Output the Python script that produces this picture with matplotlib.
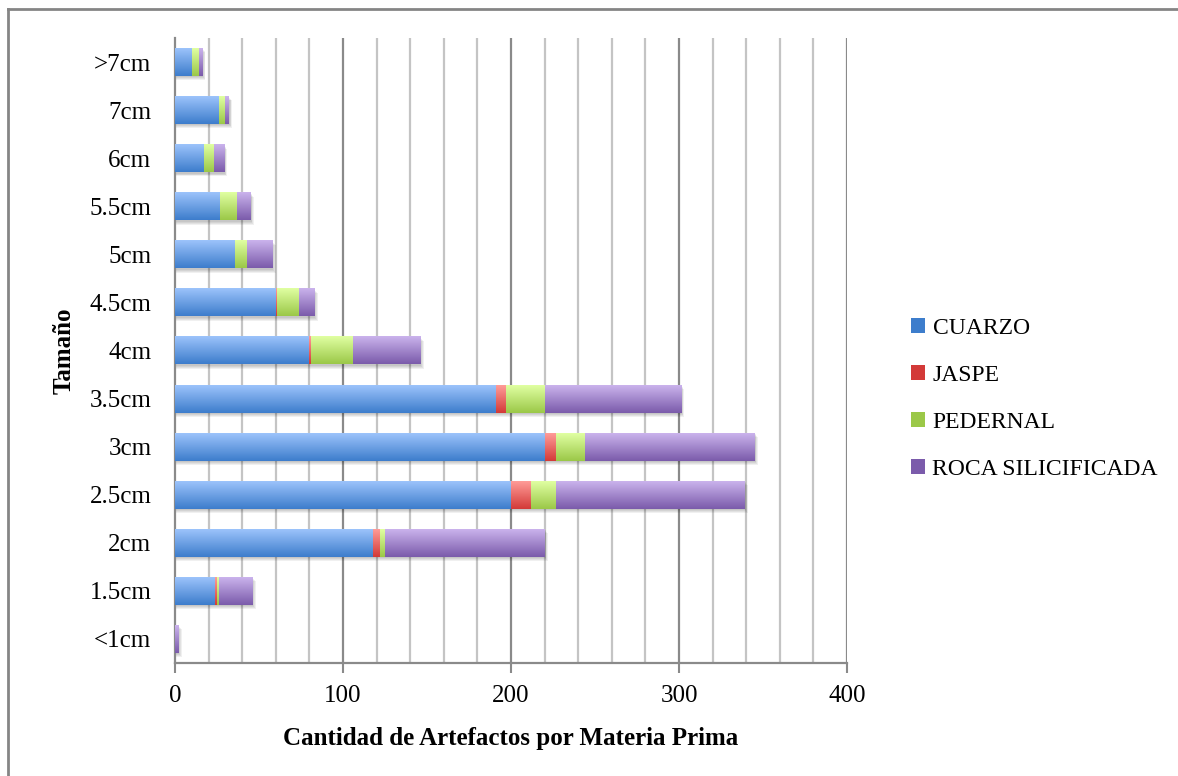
import numpy as np
import matplotlib
matplotlib.use("Agg")
import matplotlib.pyplot as plt
from matplotlib.colors import LinearSegmentedColormap
from matplotlib.lines import Line2D
from matplotlib.patches import Patch

sizes = ['<1cm', '1.5cm', '2cm', '2.5cm', '3cm', '3.5cm', '4cm',
         '4.5cm', '5cm', '5.5cm', '6cm', '7cm', '>7cm']
cuarzo = [0, 24, 118, 200, 220, 191, 80, 60, 36, 27, 17, 26, 10]
jaspe = [0, 1, 4, 12, 7, 6, 1, 1, 0, 0, 0, 0, 0]
pedernal = [0, 1, 3, 15, 17, 23, 25, 13, 7, 10, 6, 4, 4]
roca = [2, 20, 95, 112, 101, 81, 40, 9, 15, 8, 6, 2, 2]
series_names = ['CUARZO', 'JASPE', 'PEDERNAL', 'ROCA SILICIFICADA']

# (top colour, bottom colour) for the vertical gradient of each series
shades = [('#9cc3fb', '#3d7dcc'),
          ('#ff9c98', '#d33a38'),
          ('#e0ffa2', '#9bc848'),
          ('#cab3ec', '#7b5bab')]

plt.rcParams['font.family'] = ['Liberation Serif', 'DejaVu Serif']

fig = plt.figure(figsize=(11.78, 7.76), dpi=100)
ax = fig.add_axes([175/1178, 1-663/776, 672/1178, 625/776])

y = np.arange(len(sizes))
h = 0.58
data = [cuarzo, jaspe, pedernal, roca]
totals = np.sum(data, axis=0)

# soft shadow under each stacked bar
for k in range(4):
    ax.barh(y - 0.03 - 0.02*k, totals + 0.6 + 0.5*k, height=h, color='k',
            alpha=0.06, zorder=2, linewidth=0)

left = np.zeros(len(sizes))
grad = np.linspace(0, 1, 64).reshape(-1, 1)
for vals, (top, bot) in zip(data, shades):
    vals = np.array(vals, dtype=float)
    cmap = LinearSegmentedColormap.from_list('g', [top, bot])
    bars = ax.barh(y, vals, left=left, height=h, color=bot, linewidth=0, zorder=3)
    for b in bars:
        w = b.get_width()
        if w <= 0:
            continue
        x0, y0, hh = b.get_x(), b.get_y(), b.get_height()
        ax.imshow(grad, cmap=cmap, aspect='auto', origin='upper',
                  extent=(x0, x0 + w, y0, y0 + hh), zorder=4,
                  interpolation='bilinear')
    left += vals

ax.set_xlim(0, 400)
ax.set_ylim(-0.5, len(sizes) - 0.5)
ax.set_aspect('auto')

for gx in range(20, 401, 20):
    major = gx % 100 == 0
    ax.axvline(gx, color='#8a8a8a' if major else '#c4c4c4', lw=1.6, zorder=1)

ax.set_xticks([0, 100, 200, 300, 400])
ax.set_yticks(y)
ax.set_yticklabels(sizes)
ax.tick_params(axis='x', length=7, width=1.5, color='#8a8a8a', labelsize=18, pad=9)
ax.tick_params(axis='y', length=0, labelsize=18, pad=17)
for s in ['top', 'right']:
    ax.spines[s].set_visible(False)
for s in ['left', 'bottom']:
    ax.spines[s].set_color('#8a8a8a')
    ax.spines[s].set_linewidth(1.6)

ax.set_xlabel('Cantidad de Artefactos por Materia Prima', fontsize=18,
              fontweight='bold', labelpad=14)
ax.set_ylabel('Tamaño', fontsize=18, fontweight='bold', labelpad=10)

handles = [Patch(facecolor=c[1], edgecolor='none') for c in shades]
fig.legend(handles, series_names, loc='center left',
           bbox_to_anchor=(890/1178, 1-399/776), frameon=False, fontsize=17,
           handlelength=0.6, handleheight=0.6, handletextpad=0.3,
           labelspacing=1.1)

# outer frame (top and left edges)
fig.add_artist(Line2D([8/1178, 1], [1-9/776, 1-9/776], color='#858585', lw=2))
fig.add_artist(Line2D([8/1178, 8/1178], [0, 1-9/776], color='#858585', lw=2))

fig.savefig('out.png', dpi=100)
